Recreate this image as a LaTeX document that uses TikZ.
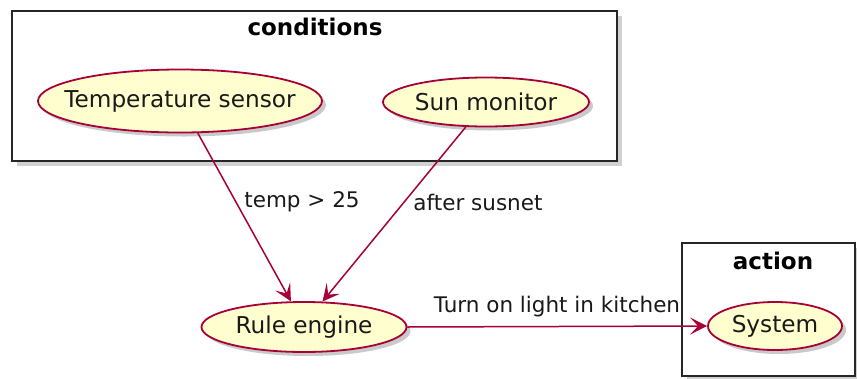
\documentclass[tikz,border=0pt]{standalone}
\usepackage{fontspec}
\setmainfont{DejaVu Sans}
\usetikzlibrary{shapes.geometric,shadows,arrows.meta}
\definecolor{ucfill}{HTML}{FEFECE}
\definecolor{ucline}{HTML}{A80036}
\tikzset{
  usecase/.style={ellipse, draw=ucline, line width=1.8pt, fill=ucfill, inner sep=0pt,
    drop shadow={shadow xshift=4pt, shadow yshift=-4pt, opacity=0.35, fill=black!60}},
  uctext/.style={font=\fontsize{23.2}{27}\selectfont, inner sep=0pt, text=black!90},
  pkgbox/.style={draw=black!85, line width=2.8pt, fill=white,
    drop shadow={shadow xshift=5pt, shadow yshift=-5pt, opacity=0.3, fill=black!60}},
  pkgtitle/.style={font=\bfseries\fontsize{23}{27}\selectfont},
  conn/.style={draw=ucline, line width=1.5pt, -{Stealth[length=17pt,width=17pt,inset=8pt]}},
  elabel/.style={font=\fontsize{21.5}{25}\selectfont, inner sep=0pt, text=black!90}
}
\begin{document}
\begin{tikzpicture}[x=1pt,y=-1pt]
\useasboundingbox (0,0) rectangle (857,378);
% packages
\path[pkgbox] (12,11) rectangle (617,161);
\node[pkgtitle] (condt) at (315,27) {conditions};
\path[pkgbox] (682,243) rectangle (855,376);
\node[pkgtitle] (actt) at (773,261) {action};
% use cases
\node[usecase, minimum width=284pt, minimum height=63pt] (ts) at (180,101) {};
\node[uctext] (tst) at (ts.center) {Temperature sensor};
\node[usecase, minimum width=206pt, minimum height=49pt] (sm) at (486,102) {};
\node[uctext] (smt) at (sm.center) {Sun monitor};
\node[usecase, minimum width=205pt, minimum height=50pt] (re) at (304,327) {};
\node[uctext] (ret) at (re.center) {Rule engine};
\node[usecase, minimum width=134pt, minimum height=48pt] (sys) at (775,326) {};
\node[uctext] (syst) at (sys.center) {System};
% connectors
\draw[conn] (ts.-61) -- (re.117);
\draw[conn] (sm.231) -- (re.54);
\draw[conn] (re.east) -- (sys.west);
% labels
\node[elabel] (l1) at (302,202) {temp > 25};
\node[elabel] (l2) at (478,202) {after susnet};
\node[elabel] (l3) at (557,307) {Turn on light in kitchen};
\end{tikzpicture}
\end{document}
